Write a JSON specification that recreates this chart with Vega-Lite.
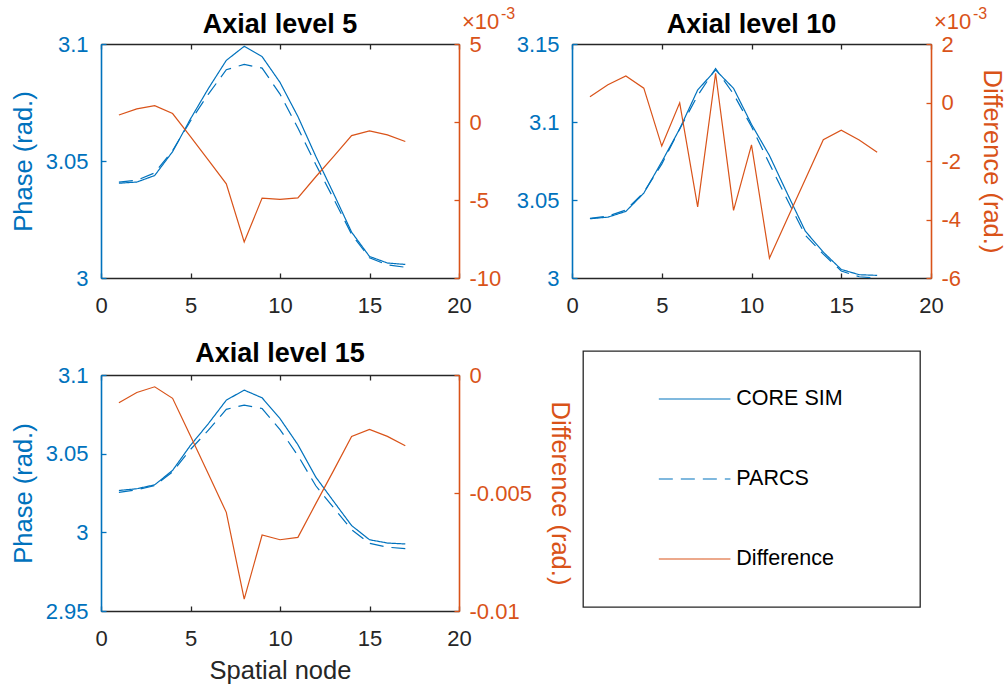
{
  "$schema": "https://vega.github.io/schema/vega-lite/v6.json",
  "padding": {"left": 11, "top": 6, "right": 0, "bottom": 0},
  "background": "white",
  "datasets": {
    "rows": [
      {"level": 5, "node": 1, "core": 3.0405, "parcs": 3.0410, "diff": 0.00045},
      {"level": 5, "node": 2, "core": 3.0410, "parcs": 3.0418, "diff": 0.00084},
      {"level": 5, "node": 3, "core": 3.0438, "parcs": 3.0449, "diff": 0.00105},
      {"level": 5, "node": 4, "core": 3.0540, "parcs": 3.0545, "diff": 0.00054},
      {"level": 5, "node": 5, "core": 3.0680, "parcs": 3.0671, "diff": -0.00093},
      {"level": 5, "node": 6, "core": 3.0810, "parcs": 3.0786, "diff": -0.00245},
      {"level": 5, "node": 7, "core": 3.0930, "parcs": 3.0890, "diff": -0.00396},
      {"level": 5, "node": 8, "core": 3.0990, "parcs": 3.0913, "diff": -0.00769},
      {"level": 5, "node": 9, "core": 3.0946, "parcs": 3.0897, "diff": -0.00488},
      {"level": 5, "node": 10, "core": 3.0836, "parcs": 3.0786, "diff": -0.00496},
      {"level": 5, "node": 11, "core": 3.0690, "parcs": 3.0641, "diff": -0.00486},
      {"level": 5, "node": 12, "core": 3.0520, "parcs": 3.0485, "diff": -0.00351},
      {"level": 5, "node": 13, "core": 3.0360, "parcs": 3.0338, "diff": -0.00221},
      {"level": 5, "node": 14, "core": 3.0196, "parcs": 3.0187, "diff": -0.00087},
      {"level": 5, "node": 15, "core": 3.0092, "parcs": 3.0086, "diff": -0.00057},
      {"level": 5, "node": 16, "core": 3.0064, "parcs": 3.0056, "diff": -0.00083},
      {"level": 5, "node": 17, "core": 3.0058, "parcs": 3.0046, "diff": -0.00125},
      {"level": 10, "node": 1, "core": 3.0380, "parcs": 3.0382, "diff": 0.00020},
      {"level": 10, "node": 2, "core": 3.0390, "parcs": 3.0396, "diff": 0.00061},
      {"level": 10, "node": 3, "core": 3.0427, "parcs": 3.0436, "diff": 0.00091},
      {"level": 10, "node": 4, "core": 3.0544, "parcs": 3.0549, "diff": 0.00049},
      {"level": 10, "node": 5, "core": 3.0745, "parcs": 3.0730, "diff": -0.00149},
      {"level": 10, "node": 6, "core": 3.0956, "parcs": 3.0956, "diff": -0.00001},
      {"level": 10, "node": 7, "core": 3.1205, "parcs": 3.1169, "diff": -0.00357},
      {"level": 10, "node": 8, "core": 3.1333, "parcs": 3.1343, "diff": 0.00100},
      {"level": 10, "node": 9, "core": 3.1216, "parcs": 3.1179, "diff": -0.00369},
      {"level": 10, "node": 10, "core": 3.0985, "parcs": 3.0971, "diff": -0.00145},
      {"level": 10, "node": 11, "core": 3.0785, "parcs": 3.0732, "diff": -0.00532},
      {"level": 10, "node": 12, "core": 3.0540, "parcs": 3.0500, "diff": -0.00397},
      {"level": 10, "node": 13, "core": 3.0300, "parcs": 3.0274, "diff": -0.00262},
      {"level": 10, "node": 14, "core": 3.0166, "parcs": 3.0153, "diff": -0.00127},
      {"level": 10, "node": 15, "core": 3.0055, "parcs": 3.0045, "diff": -0.00095},
      {"level": 10, "node": 16, "core": 3.0021, "parcs": 3.0008, "diff": -0.00128},
      {"level": 10, "node": 17, "core": 3.0017, "parcs": 3.0000, "diff": -0.00170},
      {"level": 15, "node": 1, "core": 3.0266, "parcs": 3.0254, "diff": -0.00118},
      {"level": 15, "node": 2, "core": 3.0277, "parcs": 3.0270, "diff": -0.00074},
      {"level": 15, "node": 3, "core": 3.0302, "parcs": 3.0297, "diff": -0.00050},
      {"level": 15, "node": 4, "core": 3.0394, "parcs": 3.0384, "diff": -0.00099},
      {"level": 15, "node": 5, "core": 3.0553, "parcs": 3.0527, "diff": -0.00258},
      {"level": 15, "node": 6, "core": 3.0691, "parcs": 3.0649, "diff": -0.00420},
      {"level": 15, "node": 7, "core": 3.0840, "parcs": 3.0782, "diff": -0.00582},
      {"level": 15, "node": 8, "core": 3.0904, "parcs": 3.0809, "diff": -0.00950},
      {"level": 15, "node": 9, "core": 3.0855, "parcs": 3.0787, "diff": -0.00678},
      {"level": 15, "node": 10, "core": 3.0723, "parcs": 3.0653, "diff": -0.00698},
      {"level": 15, "node": 11, "core": 3.0557, "parcs": 3.0488, "diff": -0.00688},
      {"level": 15, "node": 12, "core": 3.0351, "parcs": 3.0296, "diff": -0.00545},
      {"level": 15, "node": 13, "core": 3.0196, "parcs": 3.0156, "diff": -0.00404},
      {"level": 15, "node": 14, "core": 3.0043, "parcs": 3.0017, "diff": -0.00260},
      {"level": 15, "node": 15, "core": 2.9953, "parcs": 2.9930, "diff": -0.00231},
      {"level": 15, "node": 16, "core": 2.9932, "parcs": 2.9906, "diff": -0.00260},
      {"level": 15, "node": 17, "core": 2.9926, "parcs": 2.9896, "diff": -0.00300}
    ],
    "legend": [
      {"label": "CORE SIM"},
      {"label": "PARCS"},
      {"label": "Difference"}
    ]
  },
  "bounds": "full",
  "spacing": -63,
  "hconcat": [
    {
      "bounds": "flush",
      "spacing": 97,
      "vconcat": [
        {
          "title": {"text": "Axial level 5", "offset": -33},
          "width": 358,
          "height": 234,
          "data": {"name": "rows"},
          "transform": [{"filter": "datum.level == 5"}],
          "layer": [
            {
              "transform": [{"fold": ["core", "parcs"], "as": ["series", "phase"]}],
              "mark": {"type": "line", "color": "#0072BD", "strokeWidth": 1.2},
              "encoding": {
                "x": {"field": "node", "type": "quantitative", "scale": {"domain": [0, 20], "nice": false},
                      "axis": {"orient": "bottom", "values": [0, 5, 10, 15, 20], "title": null}},
                "y": {"field": "phase", "type": "quantitative", "scale": {"domain": [3, 3.1], "nice": false, "zero": false},
                      "axis": {"orient": "left", "values": [3, 3.05, 3.1], "labelExpr": "format(datum.value, '.6~g')", "title": "Phase (rad.)",
                               "domainColor": "#0072BD", "tickColor": "#0072BD", "labelColor": "#0072BD", "titleColor": "#0072BD", "domainWidth": 1.6}},
                "strokeDash": {"field": "series", "type": "nominal", "scale": {"domain": ["core", "parcs"], "range": [[1, 0], [14, 8]]}, "legend": null},
                "detail": {"field": "series"}
              }
            },
            {
              "layer": [
                {
                  "mark": {"type": "line", "color": "#D95319", "strokeWidth": 1.2},
                  "encoding": {
                    "x": {"field": "node", "type": "quantitative", "axis": null},
                    "y": {"field": "diff", "type": "quantitative", "scale": {"domain": [-0.01, 0.005], "nice": false, "zero": false},
                          "axis": {"orient": "right", "values": [-0.01, -0.005, 0, 0.005], "labelExpr": "(datum.value < 0 ? '-' : '') + round(abs(datum.value) * 1000)", "title": null,
                                   "domainColor": "#D95319", "tickColor": "#D95319", "labelColor": "#D95319", "titleColor": "#D95319", "domainWidth": 1.6}}
                  }
                },
                {
                  "data": {"values": [{}]},
                  "mark": {"type": "text", "text": "×10", "align": "left", "baseline": "alphabetic", "dx": 3, "dy": -15, "fontSize": 22, "color": "#D95319"},
                  "encoding": {"x": {"datum": 20, "type": "quantitative", "axis": null}, "y": {"datum": 0.005, "type": "quantitative"}}
                },
                {
                  "data": {"values": [{}]},
                  "mark": {"type": "text", "text": "-3", "align": "left", "baseline": "alphabetic", "dx": 42, "dy": -25, "fontSize": 16, "color": "#D95319"},
                  "encoding": {"x": {"datum": 20, "type": "quantitative", "axis": null}, "y": {"datum": 0.005, "type": "quantitative"}}
                }
              ]
            },
            {
              "mark": {"type": "rule", "opacity": 0},
              "encoding": {"x": {"field": "node", "type": "quantitative", "axis": {"orient": "top", "values": [0, 5, 10, 15, 20], "labels": false, "title": null}}}
            }
          ],
          "resolve": {"scale": {"y": "independent"}, "axis": {"x": "independent"}}
        },
        {
          "title": {"text": "Axial level 15", "offset": -4},
          "width": 358,
          "height": 236,
          "data": {"name": "rows"},
          "transform": [{"filter": "datum.level == 15"}],
          "layer": [
            {
              "transform": [{"fold": ["core", "parcs"], "as": ["series", "phase"]}],
              "mark": {"type": "line", "color": "#0072BD", "strokeWidth": 1.2},
              "encoding": {
                "x": {"field": "node", "type": "quantitative", "scale": {"domain": [0, 20], "nice": false},
                      "axis": {"orient": "bottom", "values": [0, 5, 10, 15, 20], "title": "Spatial node"}},
                "y": {"field": "phase", "type": "quantitative", "scale": {"domain": [2.95, 3.1], "nice": false, "zero": false},
                      "axis": {"orient": "left", "values": [2.95, 3, 3.05, 3.1], "labelExpr": "format(datum.value, '.6~g')", "title": "Phase (rad.)",
                               "domainColor": "#0072BD", "tickColor": "#0072BD", "labelColor": "#0072BD", "titleColor": "#0072BD", "domainWidth": 1.6}},
                "strokeDash": {"field": "series", "type": "nominal", "scale": {"domain": ["core", "parcs"], "range": [[1, 0], [14, 8]]}, "legend": null},
                "detail": {"field": "series"}
              }
            },
            {
              "mark": {"type": "line", "color": "#D95319", "strokeWidth": 1.2},
              "encoding": {
                "x": {"field": "node", "type": "quantitative", "axis": null},
                "y": {"field": "diff", "type": "quantitative", "scale": {"domain": [-0.01, 0], "nice": false, "zero": false},
                      "axis": {"orient": "right", "values": [-0.01, -0.005, 0], "labelExpr": "(datum.value < 0 ? '-' : '') + format(abs(datum.value), '.6~g')", "title": "Difference (rad.)", "titlePadding": 15,
                               "domainColor": "#D95319", "tickColor": "#D95319", "labelColor": "#D95319", "titleColor": "#D95319", "domainWidth": 1.6}}
              }
            },
            {
              "mark": {"type": "rule", "opacity": 0},
              "encoding": {"x": {"field": "node", "type": "quantitative", "axis": {"orient": "top", "values": [0, 5, 10, 15, 20], "labels": false, "title": null}}}
            }
          ],
          "resolve": {"scale": {"y": "independent"}, "axis": {"x": "independent"}}
        }
      ]
    },
    {
      "bounds": "flush",
      "spacing": 73,
      "center": true,
      "vconcat": [
        {
          "title": {"text": "Axial level 10", "offset": -33},
          "width": 359,
          "height": 234,
          "data": {"name": "rows"},
          "transform": [{"filter": "datum.level == 10"}],
          "layer": [
            {
              "transform": [{"fold": ["core", "parcs"], "as": ["series", "phase"]}],
              "mark": {"type": "line", "color": "#0072BD", "strokeWidth": 1.2},
              "encoding": {
                "x": {"field": "node", "type": "quantitative", "scale": {"domain": [0, 20], "nice": false},
                      "axis": {"orient": "bottom", "values": [0, 5, 10, 15, 20], "title": null}},
                "y": {"field": "phase", "type": "quantitative", "scale": {"domain": [3, 3.15], "nice": false, "zero": false},
                      "axis": {"orient": "left", "values": [3, 3.05, 3.1, 3.15], "labelExpr": "format(datum.value, '.6~g')", "title": null,
                               "domainColor": "#0072BD", "tickColor": "#0072BD", "labelColor": "#0072BD", "titleColor": "#0072BD", "domainWidth": 1.6}},
                "strokeDash": {"field": "series", "type": "nominal", "scale": {"domain": ["core", "parcs"], "range": [[1, 0], [14, 8]]}, "legend": null},
                "detail": {"field": "series"}
              }
            },
            {
              "layer": [
                {
                  "mark": {"type": "line", "color": "#D95319", "strokeWidth": 1.2},
                  "encoding": {
                    "x": {"field": "node", "type": "quantitative", "axis": null},
                    "y": {"field": "diff", "type": "quantitative", "scale": {"domain": [-0.006, 0.002], "nice": false, "zero": false},
                          "axis": {"orient": "right", "values": [-0.006, -0.004, -0.002, 0, 0.002], "labelExpr": "(datum.value < 0 ? '-' : '') + round(abs(datum.value) * 1000)", "title": "Difference (rad.)",
                                   "domainColor": "#D95319", "tickColor": "#D95319", "labelColor": "#D95319", "titleColor": "#D95319", "domainWidth": 1.6}}
                  }
                },
                {
                  "data": {"values": [{}]},
                  "mark": {"type": "text", "text": "×10", "align": "left", "baseline": "alphabetic", "dx": 3, "dy": -15, "fontSize": 22, "color": "#D95319"},
                  "encoding": {"x": {"datum": 20, "type": "quantitative", "axis": null}, "y": {"datum": 0.002, "type": "quantitative"}}
                },
                {
                  "data": {"values": [{}]},
                  "mark": {"type": "text", "text": "-3", "align": "left", "baseline": "alphabetic", "dx": 42, "dy": -25, "fontSize": 16, "color": "#D95319"},
                  "encoding": {"x": {"datum": 20, "type": "quantitative", "axis": null}, "y": {"datum": 0.002, "type": "quantitative"}}
                }
              ]
            },
            {
              "mark": {"type": "rule", "opacity": 0},
              "encoding": {"x": {"field": "node", "type": "quantitative", "axis": {"orient": "top", "values": [0, 5, 10, 15, 20], "labels": false, "title": null}}}
            }
          ],
          "resolve": {"scale": {"y": "independent"}, "axis": {"x": "independent"}}
        },
        {
          "width": 337,
          "height": 256,
          "view": {"stroke": "#262626", "strokeWidth": 1.3},
          "data": {"name": "legend"},
          "layer": [
            {
              "mark": {"type": "rule", "strokeWidth": 1.2},
              "encoding": {
                "x": {"datum": 0.225, "type": "quantitative", "scale": {"domain": [0, 1], "nice": false}, "axis": null},
                "x2": {"datum": 0.4375},
                "y": {"field": "label", "type": "nominal", "scale": {"type": "point", "domain": ["CORE SIM", "PARCS", "Difference"], "padding": 0.6}, "axis": null},
                "color": {"field": "label", "type": "nominal", "scale": {"domain": ["CORE SIM", "PARCS", "Difference"], "range": ["#0072BD", "#0072BD", "#D95319"]}, "legend": null},
                "strokeDash": {"field": "label", "type": "nominal", "scale": {"domain": ["CORE SIM", "PARCS", "Difference"], "range": [[1, 0], [13, 9], [1, 0]]}, "legend": null}
              }
            },
            {
              "mark": {"type": "text", "align": "left", "baseline": "middle", "fontSize": 21.5, "color": "#000000"},
              "encoding": {
                "x": {"datum": 0.455, "type": "quantitative"},
                "y": {"field": "label", "type": "nominal"},
                "text": {"field": "label"}
              }
            }
          ]
        }
      ]
    }
  ],
  "config": {
    "font": "Liberation Sans",
    "view": {"stroke": null},
    "axis": {
      "grid": false,
      "labelFont": "Liberation Sans",
      "titleFont": "Liberation Sans",
      "labelFontSize": 22,
      "titleFontSize": 25.5,
      "titleFontWeight": "normal",
      "labelFlush": false,
      "labelOverlap": false,
      "tickSize": -5,
      "tickWidth": 1.3,
      "domainWidth": 1.3,
      "domainColor": "#262626",
      "tickColor": "#262626",
      "labelColor": "#262626",
      "titleColor": "#262626",
      "labelPadding": 18,
      "titlePadding": 9
    },
    "axisX": {"labelPadding": 22},
    "axisRight": {"labelPadding": 15, "titlePadding": 18},
    "title": {"font": "Liberation Sans", "fontSize": 27, "fontWeight": "bold", "color": "#000000", "baseline": "alphabetic", "frame": "group"}
  }
}
